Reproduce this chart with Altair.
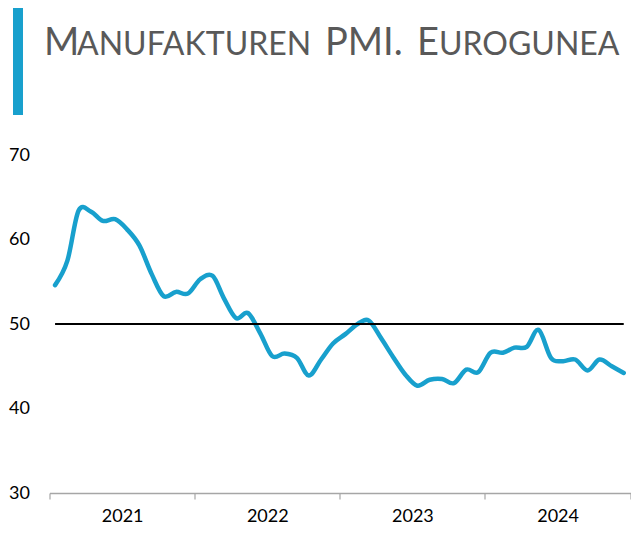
import altair as alt
import pandas as pd

# ---- data -------------------------------------------------------------
month_starts = pd.date_range("2021-01-01", periods=48, freq="MS")
months = [d.strftime("%Y-%m-15") for d in month_starts]

pmi = [
    54.6, 57.5, 63.4, 63.3, 62.2, 62.4, 61.2, 59.3, 55.9, 53.3, 53.8, 53.6,  # 2021
    55.3, 55.7, 53.1, 50.7, 51.3, 48.9, 46.2, 46.5, 46.0, 43.9, 45.8, 47.7,  # 2022
    48.8, 50.0, 50.4, 48.3, 46.1, 44.0, 42.7, 43.4, 43.5, 43.0, 44.6, 44.3,  # 2023
    46.6, 46.6, 47.2, 47.3, 49.3, 46.0, 45.6, 45.8, 44.5, 45.8, 45.0, 44.2,  # 2024
]
threshold = 50
year_edges = [2021, 2022, 2023, 2024, 2025]
y_ticks = [30, 40, 50, 60, 70]

title_big_1 = "M"
title_small_1 = "ANUFAKTUREN"
title_big_2 = "PMI."
title_big_3 = "E"
title_small_3 = "UROGUNEA"

df = pd.DataFrame({"month": months, "pmi": pmi})
one = pd.DataFrame({"k": [0]})

# ---- style ------------------------------------------------------------
W, H = 581, 338
BLUE = "#18A0CD"
GREY_TITLE = "#595959"
AXIS_GREY = "#a6a6a6"
FONT = "Lato"
BIG, SMALL = 38, 32
BASE_Y = -100

x_enc = alt.X(
    "month:T",
    scale=alt.Scale(
        type="utc",
        domain=[
            alt.DateTime(year=year_edges[0], month=1, date=1, utc=True),
            alt.DateTime(year=year_edges[-1], month=1, date=1, utc=True),
        ],
    ),
    axis=alt.Axis(
        values=[alt.DateTime(year=yv, month=1, date=1, utc=True) for yv in year_edges],
        labelExpr="utcyear(datum.value) < 2025 ? utcFormat(datum.value, '%Y') : ''",
        labelOffset=W / 8,
        labelFlush=False,
        labelOverlap=False,
        labelBound=False,
        ticks=True,
        tickSize=6,
        tickColor=AXIS_GREY,
        tickWidth=1.2,
        domainColor=AXIS_GREY,
        domainWidth=1.5,
        grid=False,
        labelFont=FONT,
        labelFontSize=18,
        labelColor="#000000",
        labelPadding=8,
        title=None,
    ),
)

y_enc = alt.Y(
    "pmi:Q",
    scale=alt.Scale(domain=[30, 70], nice=False, zero=False),
    axis=alt.Axis(
        values=y_ticks,
        domain=False,
        ticks=False,
        grid=False,
        labelFont=FONT,
        labelFontSize=18,
        labelColor="#000000",
        labelPadding=20,
        title=None,
    ),
)

line = alt.Chart(df).mark_line(
    interpolate="cardinal", color=BLUE, strokeWidth=4.5, strokeCap="round", strokeJoin="round"
).encode(x=x_enc, y=y_enc)

ref = alt.Chart(df).mark_line(color="#000000", strokeWidth=2).encode(
    x=x_enc, y=alt.datum(threshold)
)


def seg(text, xpos, size):
    return alt.Chart(one).mark_text(
        text=text, align="left", baseline="alphabetic", font=FONT,
        fontSize=size, color=GREY_TITLE,
    ).encode(x=alt.value(xpos), y=alt.value(BASE_Y))


bar = alt.Chart(one).mark_rect(color=BLUE).encode(
    x=alt.value(-36.5), x2=alt.value(-26.5), y=alt.value(-147), y2=alt.value(-40)
)

chart = alt.layer(
    line,
    ref,
    bar,
    seg(title_big_1, -5.5, BIG),
    seg(title_small_1, 27.5, SMALL),
    seg(title_big_2, 275.5, BIG),
    seg(title_big_3, 367.5, BIG),
    seg(title_small_3, 389.5, SMALL),
).properties(
    width=W,
    height=H,
    padding={"left": 41.5, "top": 147, "right": 0, "bottom": 31},
    autosize=alt.AutoSizeParams(type="none"),
).configure_view(stroke=None)

chart.save("out.html", embed_options={"renderer": "svg", "actions": False})
